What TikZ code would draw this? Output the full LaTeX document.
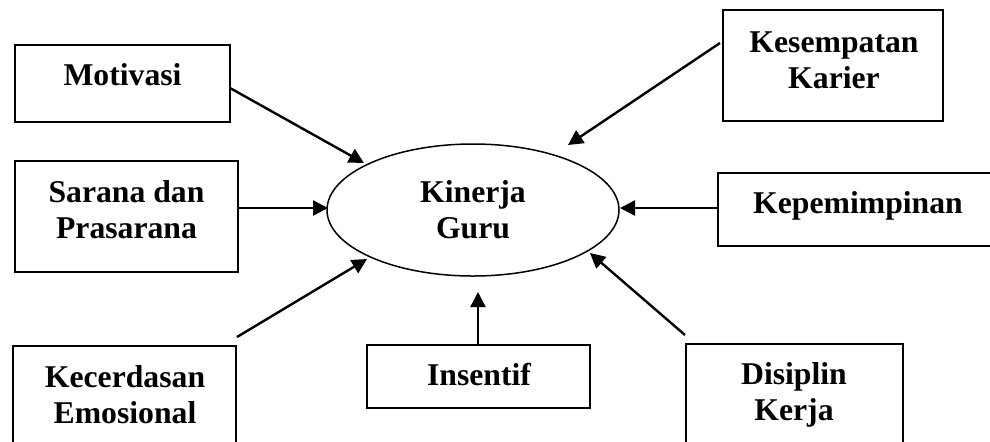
\documentclass[tikz,border=0pt]{standalone}
\usepackage{fontspec}
\setmainfont{Liberation Serif}
\usetikzlibrary{arrows.meta,shapes.geometric}
\begin{document}
\begin{tikzpicture}[x=0.5pt,y=-0.5pt,
  box/.style={draw,line width=1pt,rectangle,inner sep=0pt,minimum width=#1},
  lbl/.style={anchor=base,align=center,inner sep=0pt,font=\fontsize{15.85}{18}\selectfont\bfseries},
  arr/.style={line width=1.2pt,-{Triangle[length=7.5pt,width=7.5pt]}}]
\useasboundingbox (0,0) rectangle (990,441);
\clip (0,0) rectangle (990,441);
% boxes
\node[box=107.5pt,minimum height=38.5pt] (mot) at (122.5,83.5) {};
\node[box=111.5pt,minimum height=55.5pt] (sar) at (126.5,216.5) {};
\node[box=111.5pt,minimum height=70pt] (kec) at (124.5,416) {};
\node[box=111.5pt,minimum height=31.5pt] (ins) at (478.5,376.5) {};
\node[box=108.5pt,minimum height=70pt] (dis) at (794.5,414) {};
\node[box=146pt,minimum height=36.5pt] (kep) at (864,209.5) {};
\node[box=110pt,minimum height=55.5pt] (kes) at (833,65.5) {};
\node[draw,ellipse,line width=0.75pt,minimum width=146pt,minimum height=66pt,inner sep=0pt] (kg) at (473,210) {};
% texts (base = baseline of last line)
\node[lbl] (tmot) at (122.5,85) {Motivasi};
\node[lbl] (tsar) at (126.5,238) {Sarana dan\\Prasarana};
\node[lbl] (tkec) at (125,423) {Kecerdasan\\Emosional};
\node[lbl] (tins) at (479,385) {Insentif};
\node[lbl] (tdis) at (794,420) {Disiplin\\Kerja};
\node[lbl] (tkep) at (858,213) {Kepemimpinan};
\node[lbl] (tkes) at (834,88) {Kesempatan\\Karier};
\node[lbl] (tkg) at (473,238) {Kinerja\\Guru};
% connector ends
\coordinate (motS) at (230,88);   \coordinate (motE) at (364,163);
\coordinate (sarS) at (238,208);  \coordinate (sarE) at (328,208);
\coordinate (kecS) at (237,337);  \coordinate (kecE) at (367,259);
\coordinate (insS) at (478,345);  \coordinate (insE) at (478,292);
\coordinate (disS) at (685,335);  \coordinate (disE) at (590,253);
\coordinate (kepS) at (718,208);  \coordinate (kepE) at (620,208);
\coordinate (kesS) at (720,43);   \coordinate (kesE) at (568,145);
\draw[arr] (motS) -- (motE);
\draw[arr] (sarS) -- (sarE);
\draw[arr] (kecS) -- (kecE);
\draw[arr] (insS) -- (insE);
\draw[arr] (disS) -- (disE);
\draw[arr] (kepS) -- (kepE);
\draw[arr] (kesS) -- (kesE);
\end{tikzpicture}
\end{document}
